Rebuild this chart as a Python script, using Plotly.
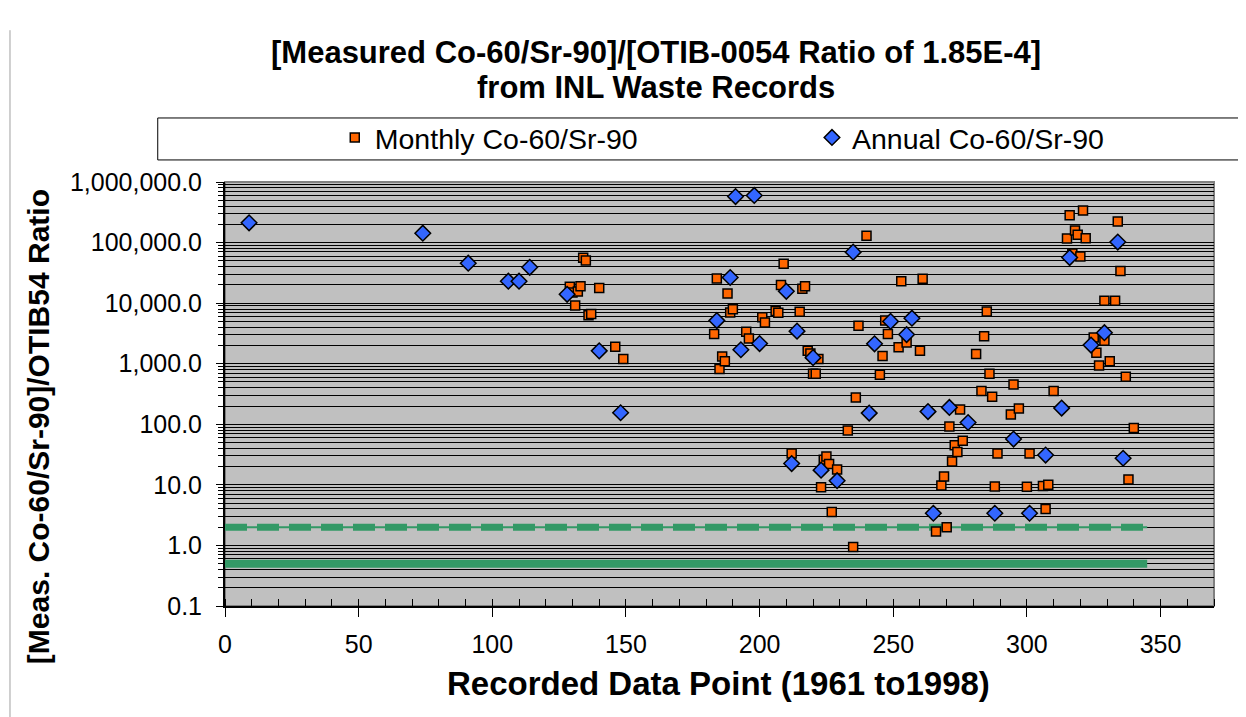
import plotly.graph_objects as go

# Monthly Co-60/Sr-90 ratio (data point index, ratio to OTIB-0054 value)
monthly_x = [129, 130, 131, 132, 133, 134, 135, 136, 137, 140, 146, 149,
             183, 184, 185, 186, 187, 188, 189, 190, 195, 196, 201, 202,
             206, 207, 208, 209, 212, 215, 216, 217, 218, 219, 220, 221,
             222, 223, 224, 225, 226, 227, 229, 233, 235, 236, 237, 240,
             245, 246, 247, 248, 252, 253, 255, 260, 261, 266, 268, 269,
             270, 271, 272, 273, 274, 275, 276, 281, 283, 284, 285, 286,
             287, 288, 289, 294, 295, 297, 300, 301, 306, 307, 308, 310,
             315, 316, 317, 318, 319, 320, 321, 322, 325, 326, 327, 329,
             329, 331, 333, 334, 335, 337, 338, 340]
monthly_y = [18700, 15000, 9100, 15500, 19000, 56000, 50500, 6300, 6600, 17800, 1900, 1200,
             3100, 25500, 815, 1320, 1100, 14400, 7000, 7900, 3370, 2600, 5860, 4800,
             7400, 6950, 20000, 44600, 33, 7200, 17300, 19000, 1630, 1480, 680, 680,
             1200, 9.1, 26, 29.5, 22, 3.55, 18, 79, 0.94, 277, 4250, 129000,
             660, 1340, 5150, 3090, 1870, 23000, 2230, 1630, 25300, 1.7, 9.8, 13.8,
             2.0, 92, 24.4, 45, 35, 175, 53.6, 1440, 355, 2850, 7250, 680,
             285, 9.4, 33, 145, 455, 182, 9.3, 33, 9.6, 4.0, 10, 355,
             117000, 282000, 66000, 158000, 134000, 59000, 337000, 118000, 2700, 1520, 930, 2400,
             11000, 1100, 11000, 222000, 34000, 610, 12.3, 87]

# Annual Co-60/Sr-90 ratio
annual_x = [9, 74, 91, 106, 110, 114, 128, 140, 148, 184, 189, 191,
            193, 198, 200, 210, 212, 214, 220, 223, 229, 235, 241, 243,
            249, 255, 257, 263, 265, 271, 278, 288, 295, 301, 307, 313,
            316, 324, 329, 334, 336]
annual_y = [212000, 143000, 45700, 23000, 23000, 39000, 14000, 1630, 155, 5150, 26500, 575000,
            1700, 600000, 2150, 15700, 22.5, 3450, 1260, 17.5, 11.7, 69500, 153, 2130,
            5000, 3030, 5650, 162, 3.4, 190, 107, 3.4, 57, 3.4, 31, 185,
            56600, 2030, 3250, 102000, 27.5]

# reference levels
ref_x = [0, 345]
ref_upper = [2, 2]
ref_lower = [0.5, 0.5]

y_tick_vals = [0.1, 1, 10, 100, 1000, 10000, 100000, 1000000]
y_tick_text = ['0.1', '1.0', '10.0', '100.0', '1,000.0', '10,000.0',
               '100,000.0', '1,000,000.0']
y_minor_vals = [m * 10 ** e for e in range(-1, 6) for m in range(2, 10)]

FONT = 'Arial, "Liberation Sans", sans-serif'
GREEN = '#339966'

fig = go.Figure()

fig.add_trace(go.Scatter(
    x=ref_x, y=ref_lower, mode='lines',
    line=dict(color=GREEN, width=8),
    showlegend=False, hoverinfo='skip'
))
fig.add_trace(go.Scatter(
    x=ref_x, y=ref_upper, mode='lines',
    line=dict(color=GREEN, width=2),
    showlegend=False, hoverinfo='skip'
))
fig.add_trace(go.Scatter(
    x=ref_x, y=ref_upper, mode='lines',
    line=dict(color=GREEN, width=7, dash='22px,10px'),
    showlegend=False, hoverinfo='skip'
))

fig.add_trace(go.Scatter(
    x=monthly_x, y=monthly_y, mode='markers',
    name='Monthly Co-60/Sr-90', legend='legend',
    marker=dict(symbol='square', size=9, color='#FF6600',
                line=dict(color='black', width=1.5))
))
fig.add_trace(go.Scatter(
    x=annual_x, y=annual_y, mode='markers',
    name='Annual Co-60/Sr-90', legend='legend2',
    marker=dict(symbol='diamond', size=12, color='#3366FF',
                line=dict(color='black', width=1.5))
))

# the page body has an 8px margin, so the figure is 8px smaller
fig.update_layout(
    width=1238, height=709,
    margin=dict(l=217, r=32, t=174, b=111),
    paper_bgcolor='white',
    plot_bgcolor='#C0C0C0',
    font=dict(family=FONT, size=25, color='black'),
    legend=dict(x=0.111, xanchor='left', y=1.104, yanchor='middle',
                bgcolor='rgba(0,0,0,0)', borderwidth=0, font=dict(size=28.5)),
    legend2=dict(x=0.5935, xanchor='left', y=1.104, yanchor='middle',
                 bgcolor='rgba(0,0,0,0)', borderwidth=0, font=dict(size=28.5)),
    showlegend=True,
)

fig.update_xaxes(
    range=[0, 370], tick0=0, dtick=50,
    ticks='outside', ticklen=9, tickcolor='black', tickwidth=1,
    showline=True, linecolor='black', linewidth=2,
    showgrid=False, zeroline=False,
    minor=dict(dtick=10, ticks='inside', ticklen=7, tickcolor='black', showgrid=False),
    ticklabelstandoff=6,
)
fig.update_yaxes(
    type='log', range=[-1, 6],
    tickmode='array', tickvals=y_tick_vals, ticktext=y_tick_text,
    ticks='outside', ticklen=7, tickcolor='black', tickwidth=1,
    showline=True, linecolor='black', linewidth=2,
    showgrid=True, gridcolor='black', gridwidth=1, zeroline=False,
    minor=dict(tickvals=y_minor_vals, ticks='outside', ticklen=5,
               tickcolor='black', showgrid=True, gridcolor='black', gridwidth=1),
    ticklabelstandoff=9,
)

# grey plot frame (top/right), legend box and page edge line
fig.add_shape(type='rect', xref='paper', yref='paper', x0=0, x1=1, y0=0, y1=1,
              line=dict(color='#808080', width=2), layer='below')
fig.add_shape(type='rect', xref='paper', yref='paper',
              x0=-0.068, x1=1.028, y0=1.052, y1=1.151,
              line=dict(color='black', width=1), fillcolor='white', layer='below')
fig.add_shape(type='line', xref='paper', yref='paper',
              x0=-0.2174, x1=-0.2174, y0=-0.262, y1=1.358,
              line=dict(color='#A0A0A0', width=1))

# two title lines placed separately for Excel-like line spacing
fig.add_annotation(text='<b>[Measured Co-60/Sr-90]/[OTIB-0054 Ratio of 1.85E-4]</b>',
                   xref='paper', yref='paper', x=0.4358, y=1.3066,
                   xanchor='center', yanchor='middle', showarrow=False,
                   font=dict(size=31))
fig.add_annotation(text='<b>from INL Waste Records</b>',
                   xref='paper', yref='paper', x=0.4358, y=1.224,
                   xanchor='center', yanchor='middle', showarrow=False,
                   font=dict(size=31))

fig.add_annotation(text='<b>Recorded Data Point (1961 to1998)</b>',
                   xref='paper', yref='paper', x=0.4985, y=-0.182,
                   xanchor='center', yanchor='middle', showarrow=False,
                   font=dict(size=33))
fig.add_annotation(text='<b>[Meas. Co-60/Sr-90]/OTIB54 Ratio</b>',
                   xref='paper', yref='paper', x=-0.189, y=0.422,
                   xanchor='center', yanchor='middle', showarrow=False,
                   textangle=-90, font=dict(size=30))

fig.write_html("out.html")
